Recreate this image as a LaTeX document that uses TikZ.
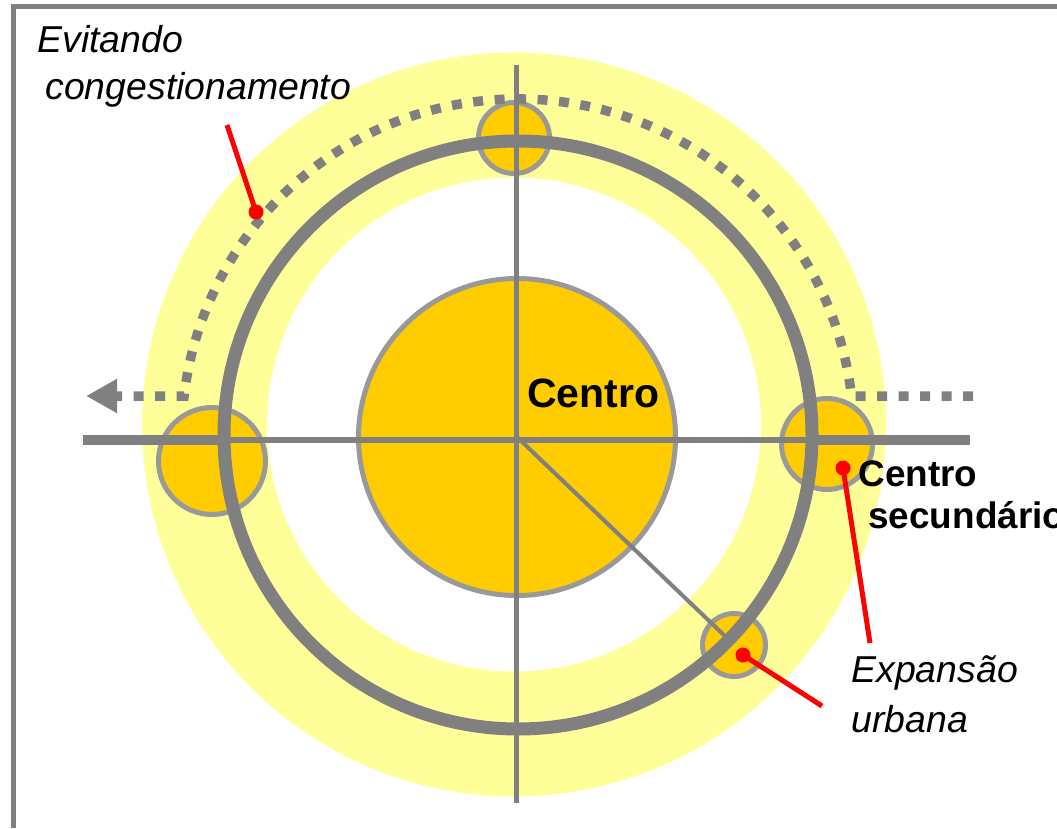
\documentclass[tikz,border=0pt]{standalone}
\usepackage{fontspec}
\setmainfont{Liberation Sans}
\usetikzlibrary{arrows.meta}
\definecolor{ringgray}{HTML}{808080}
\definecolor{rimgray}{HTML}{999999}
\definecolor{pale}{HTML}{FFFF99}
\definecolor{gold}{HTML}{FFCC00}

\begin{document}
\begin{tikzpicture}[
    hub/.style={circle, draw=rimgray, line width=0.1cm, fill=gold, inner sep=0},
    pin/.style={red, line width=0.1cm},
    dot/.style={circle, fill=red, inner sep=0, minimum size=0.3cm},
    tag/.style={anchor=base west, inner sep=0, font=\fontsize{21.3}{25}\selectfont\itshape},
    bold/.style={anchor=base west, inner sep=0, font=\fontsize{21}{25}\selectfont\bfseries}
  ]
    \useasboundingbox (0,0) rectangle (21.14,16.56);

    % frame
    \draw [ringgray, line width=0.1cm] (0.27,0) -- (0.27,16.43) -- (21.3,16.43);

    % pale band
    \fill [pale, even odd rule] (10.28,8.07) circle (7.44) (10.28,8.07) circle (4.94);

    % centres
    \node [hub, minimum size=6.34cm] (core) at (10.34,7.82) {};
    \node [hub, minimum size=1.42cm] (north) at (10.28,13.8) {};
    \node [hub, minimum size=2.14cm] (west) at (4.24,7.34) {};
    \node [hub, minimum size=1.82cm] (east) at (16.54,7.68) {};
    \node [hub, minimum size=1.26cm] (sprawl) at (14.68,3.66) {};

    % ring road
    \draw [ringgray, line width=0.26cm] (10.36,7.86) circle (5.88);

    % axes
    \draw [ringgray, line width=0.1cm] (10.33,15.26) -- (10.33,0.5);
    \draw [ringgray, line width=0.12cm] (1.66,7.76) -- (19.4,7.76);
    \draw [ringgray, line width=0.2cm] (1.66,7.76) -- (4.48,7.76);
    \draw [ringgray, line width=0.2cm] (16.26,7.76) -- (19.4,7.76);
    \draw [ringgray, line width=0.08cm] (core.center) -- (14.54,3.8);

    % bypass
    \draw [ringgray, line width=0.19cm, dash pattern=on 0.2cm off 0.23cm,
      -{Triangle[length=0.62cm, width=0.64cm]}]
      (19.46,8.64) -- (17.03,8.64) arc [start angle=6.66, end angle=173.34, radius=6.72] -- (1.72,8.64);

    % pointers
    \node [dot] (d1) at (5.12,12.32) {};
    \node [dot] (d2) at (16.86,7.2) {};
    \node [dot] (d3) at (14.86,3.46) {};
    \coordinate (e1) at (4.54,14.06);
    \coordinate (e2) at (17.4,3.7);
    \coordinate (e3) at (16.44,2.44);
    \draw [pin] (d1.center) -- (e1);
    \draw [pin] (d2.center) -- (e2);
    \draw [pin] (d3.center) -- (e3);

    % labels
    \node [tag] (evit) at (0.74,15.5) {Evitando};
    \node [tag] (cong) at (0.9,14.56) {congestionamento};
    \node [bold, font=\fontsize{23.3}{28}\selectfont\bfseries] (centro) at (10.54,8.42) {Centro};
    \node [bold] (sec1) at (17.16,6.84) {Centro};
    \node [bold] (sec2) at (17.36,6.0) {secundário};
    \node [tag] (exp1) at (17.02,2.92) {Expansão};
    \node [tag] (exp2) at (17.02,1.92) {urbana};
\end{tikzpicture}
\end{document}
